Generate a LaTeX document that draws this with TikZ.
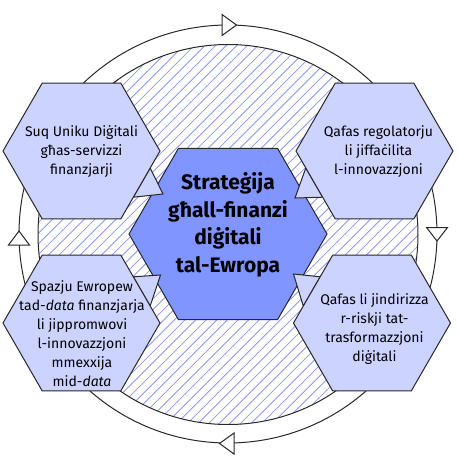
\documentclass[tikz,border=0pt]{standalone}
\usepackage{fontspec}
\setmainfont{Fira Sans}
\usetikzlibrary{calc}
\definecolor{hexlight}{RGB}{204,211,255}
\definecolor{hexmain}{RGB}{128,149,255}
\definecolor{hatchblue}{RGB}{140,152,250}
\definecolor{edge}{RGB}{40,40,40}
\tikzset{
  ring/.style={draw=edge, line width=1pt},
  arrowtri/.style={draw=edge, fill=white, line width=1pt, line join=miter},
  hatchline/.style={draw=hatchblue, line width=0.8pt},
  smallhex/.style={draw=edge, fill=hexlight, line width=1pt, line join=miter},
  mainhex/.style={draw=edge, fill=hexmain, line width=1pt, line join=miter},
  tail/.style={draw=edge, fill=hexlight, line width=1pt, line join=miter},
  smalltext/.style={align=center, font=\fontsize{14}{19}\selectfont, inner sep=0pt},
  maintext/.style={align=center, font=\fontsize{21}{27.5}\selectfont\bfseries, inner sep=0pt}
}
\begin{document}
\begin{tikzpicture}[x=1pt,y=-1pt]
\useasboundingbox (0,0) rectangle (458,472);
% centres
\coordinate (O) at (228,234);
\coordinate (TL) at (81.5,151);
\coordinate (TR) at (374.5,151);
\coordinate (BL) at (81.5,323);
\coordinate (BR) at (372,323);
% outer cycle ring
\draw[ring] (O) circle (209pt);
% open arrow heads on the ring
\path[arrowtri] (222,14.5) -- (222,35.5) -- (236.5,25) -- cycle;
\path[arrowtri] (426.5,227.5) -- (447.5,227.5) -- (437,241) -- cycle;
\path[arrowtri] (234,433) -- (234,454) -- (219.5,443.5) -- cycle;
\path[arrowtri] (8.5,245) -- (29.5,245) -- (19,231) -- cycle;
% hatched inner disc
\begin{scope}
  \clip (228,234.5) circle (190pt);
  \fill[white] (228,234.5) circle (190pt);
  \foreach \i in {-40,...,40} {
    \draw[hatchline] ($(228,234.5)+(\i*10.6,0)+(-260,260)$) -- ++(520,-520);
  }
\end{scope}
\draw[ring] (228,234.5) circle (190pt);
% central hexagon
\path[mainhex] (O) ++(99pt,0) -- ++(120:99pt) -- ++(180:99pt) -- ++(240:99pt) -- ++(300:99pt) -- ++(0:99pt) -- cycle;
% tails
\path[tail] ($(TL)+(68.7,17)$) -- ($(TL)+(81.5,43)$) -- ($(TL)+(51.8,46.2)$) -- cycle;
\path[tail] ($(TR)+(-68.7,17)$) -- ($(TR)+(-79.5,47)$) -- ($(TR)+(-51.8,46.2)$) -- cycle;
\path[tail] ($(BL)+(68.7,-17)$) -- ($(BL)+(79,-48)$) -- ($(BL)+(51.8,-46.2)$) -- cycle;
\path[tail] ($(BR)+(-68.7,-17)$) -- ($(BR)+(-78.5,-49)$) -- ($(BR)+(-51.8,-46.2)$) -- cycle;
% small hexagons
\foreach \c in {TL,TR,BL,BR} {
  \path[smallhex] (\c) ++(78.5pt,0) -- ++(120:78.5pt) -- ++(180:78.5pt) -- ++(240:78.5pt) -- ++(300:78.5pt) -- ++(0:78.5pt) -- cycle;
}
% texts
\node[maintext] (tmain) at (228,225) {Strateġija\\għall-finanzi\\diġitali\\tal-Ewropa};
\node[smalltext] (ttl) at (81.5,152) {Suq Uniku Diġitali\\għas-servizzi\\finanzjarji};
\node[smalltext] (ttr) at (378.5,152) {Qafas regolatorju\\li jiffaċilita\\l-innovazzjoni};
\node[smalltext] (tbl) at (82,334) {Spazju Ewropew\\tad-\textit{data} finanzjarja\\li jippromwovi\\l-innovazzjoni\\mmexxija\\mid-\textit{data}};
\node[smalltext] (tbr) at (374.5,329) {Qafas li jindirizza\\r-riskji tat-\\trasformazzjoni\\diġitali};
\end{tikzpicture}
\end{document}
